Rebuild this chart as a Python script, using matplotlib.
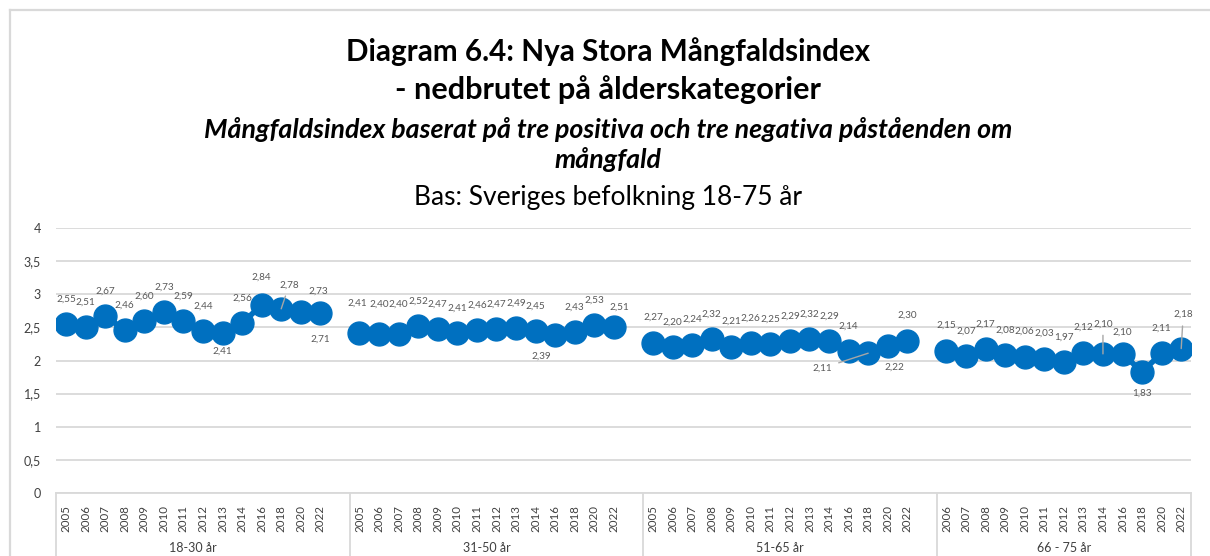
import matplotlib
matplotlib.use("Agg")
import matplotlib.pyplot as plt
from matplotlib.lines import Line2D
import matplotlib.transforms as mtrans

# ---------------- data ----------------
groups = ["18-30 år", "31-50 år", "51-65 år", "66 - 75 år"]
years_g1 = ["2005", "2006", "2007", "2008", "2009", "2010", "2011", "2012", "2013", "2014", "2016", "2018", "2020", "2022"]
years_g2 = ["2005", "2006", "2007", "2008", "2009", "2010", "2011", "2012", "2013", "2014", "2016", "2018", "2020", "2022"]
years_g3 = ["2005", "2006", "2007", "2008", "2009", "2010", "2011", "2012", "2013", "2014", "2016", "2018", "2020", "2022"]
years_g4 = ["2006", "2007", "2008", "2009", "2010", "2011", "2012", "2013", "2014", "2016", "2018", "2020", "2022"]
values_g1 = [2.55, 2.51, 2.67, 2.46, 2.60, 2.73, 2.59, 2.44, 2.41, 2.56, 2.84, 2.78, 2.73, 2.71]
values_g2 = [2.41, 2.40, 2.40, 2.52, 2.47, 2.41, 2.46, 2.47, 2.49, 2.45, 2.39, 2.43, 2.53, 2.51]
values_g3 = [2.27, 2.20, 2.24, 2.32, 2.21, 2.26, 2.25, 2.29, 2.32, 2.29, 2.14, 2.11, 2.22, 2.30]
values_g4 = [2.15, 2.07, 2.17, 2.08, 2.06, 2.03, 1.97, 2.12, 2.10, 2.10, 1.83, 2.11, 2.18]
yticks = [0, 0.5, 1, 1.5, 2, 2.5, 3, 3.5, 4]

title1 = "Diagram 6.4: Nya Stora Mångfaldsindex"
title2 = "- nedbrutet på ålderskategorier"
subtitle1 = "Mångfaldsindex baserat på tre positiva och tre negativa påståenden om"
subtitle2 = "mångfald"
base_text = "Bas: Sveriges befolkning 18-75 år"

# ---------------- style ----------------
FONT = "Lato"
BLUE = "#0070C0"
GRID = "#D9D9D9"
LABEL_GREY = "#595959"
TICK_GREY = "#404040"
W, H = 1210, 556
DPI = 100

# label placement (pixel offsets from marker centre), default above
DEFAULT_OFF = (0, -25)
label_offsets = {
    (0, 8): (0, 18), (0, 10): (0, -28), (0, 11): (8, -24), (0, 12): (18, -21), (0, 13): (0, 26),
    (1, 0): (-2, -30), (1, 1): (0, -30), (1, 2): (0, -30), (1, 10): (-14, 22), (1, 13): (6, -20),
    (2, 11): (-46, 15), (2, 12): (7, 21),
    (3, 8): (0, -30), (3, 9): (0, -22), (3, 10): (0, 21), (3, 12): (2, -34),
}
leaders = {(0, 11), (2, 11), (3, 8), (3, 12)}

plt.rcParams["font.family"] = [FONT, "DejaVu Sans"]
fig = plt.figure(figsize=(W / DPI, H / DPI), dpi=DPI)

# outer border
fig.add_artist(Line2D([10 / W, 10 / W], [0, 1 - 10 / H], transform=fig.transFigure, color=GRID, lw=1.6))
fig.add_artist(Line2D([10 / W, 1], [1 - 10 / H, 1 - 10 / H], transform=fig.transFigure, color=GRID, lw=1.6))

left_px, right_px, top_px, bot_px = 56.2, 1191, 228, 493
ax = fig.add_axes([left_px / W, 1 - bot_px / H, (right_px - left_px) / W, (bot_px - top_px) / H])

all_years = [years_g1, years_g2, years_g3, years_g4]
all_vals = [values_g1, values_g2, values_g3, values_g4]

positions = []
tick_labels = []
spans = []
pos = 0
for gi, (yrs, vals) in enumerate(zip(all_years, all_vals)):
    xs = list(range(pos, pos + len(yrs)))
    spans.append((pos, pos + len(yrs)))
    positions += xs
    tick_labels += yrs
    ax.plot(xs, vals, color=BLUE, lw=4.0, marker="o", markersize=16.5, markerfacecolor=BLUE,
            markeredgecolor=BLUE, solid_capstyle="round", zorder=3)
    for i, (x, v) in enumerate(zip(xs, vals)):
        dx, dy = label_offsets.get((gi, i), DEFAULT_OFF)
        txt = f"{v:.2f}".replace(".", ",")
        kw = {}
        if (gi, i) in leaders:
            kw["arrowprops"] = dict(arrowstyle="-", color="#A6A6A6", lw=1.0, shrinkA=3, shrinkB=0)
        ax.annotate(txt, xy=(x, v), xytext=(dx * 0.72, -dy * 0.72), textcoords="offset points",
                    ha="center", va="center", fontsize=7.2, color=LABEL_GREY, zorder=5, **kw)
    pos += len(yrs) + 1

ax.set_xlim(-0.5, spans[-1][1] - 0.5)
ax.set_ylim(0, 4)
ax.set_yticks(yticks)
ax.set_yticklabels([("%g" % t).replace(".", ",") for t in yticks], fontsize=9, color=TICK_GREY)
ax.set_xticks(positions)
ax.set_xticklabels(tick_labels, rotation=90, fontsize=8.3, color=TICK_GREY)
ax.tick_params(axis="both", length=0)
ax.tick_params(axis="x", pad=9)
ax.tick_params(axis="y", pad=11)
ax.grid(axis="y", color=GRID, lw=1.3)
ax.set_axisbelow(True)
for s in ["top", "right", "left"]:
    ax.spines[s].set_visible(False)
ax.spines["bottom"].set_color(GRID)
ax.spines["bottom"].set_linewidth(1.3)

# group separators and group labels
trans = mtrans.blended_transform_factory(ax.transData, ax.transAxes)
bounds = [-0.5] + [spans[k][1] + 0.5 for k in range(len(spans) - 1)] + [spans[-1][1] - 0.5]
for b in bounds:
    ax.add_line(Line2D([b, b], [0, -0.3], transform=trans, color=GRID, lw=1.3, clip_on=False))
for (s, e), g in zip(spans, groups):
    ax.text((s + e - 1) / 2, -0.207, g, transform=trans, ha="center", va="center", fontsize=9,
            color=TICK_GREY)

# titles (fit widths to reference)
fig.canvas.draw()
renderer = fig.canvas.get_renderer()
def fit_text(y_px, s, width_px, **kw):
    t = fig.text(0.5 + 3 / W, 1 - y_px / H, s, ha="center", va="center", **kw)
    if width_px:
        bb = t.get_window_extent(renderer)
        t.set_fontsize(t.get_fontsize() * width_px / bb.width)
    return t

fit_text(52, title1, 525, fontsize=18, fontweight="bold", color="black")
fit_text(90, title2, 427, fontsize=18, fontweight="bold", color="black")
st = fit_text(130, subtitle1, 811, fontsize=15, fontweight="bold", fontstyle="italic", color="black")
fit_text(159, subtitle2, None, fontsize=st.get_fontsize(), fontweight="bold", fontstyle="italic", color="black")
fit_text(197, base_text, 389, fontsize=15, color="black")

fig.savefig("out.png", dpi=DPI)
